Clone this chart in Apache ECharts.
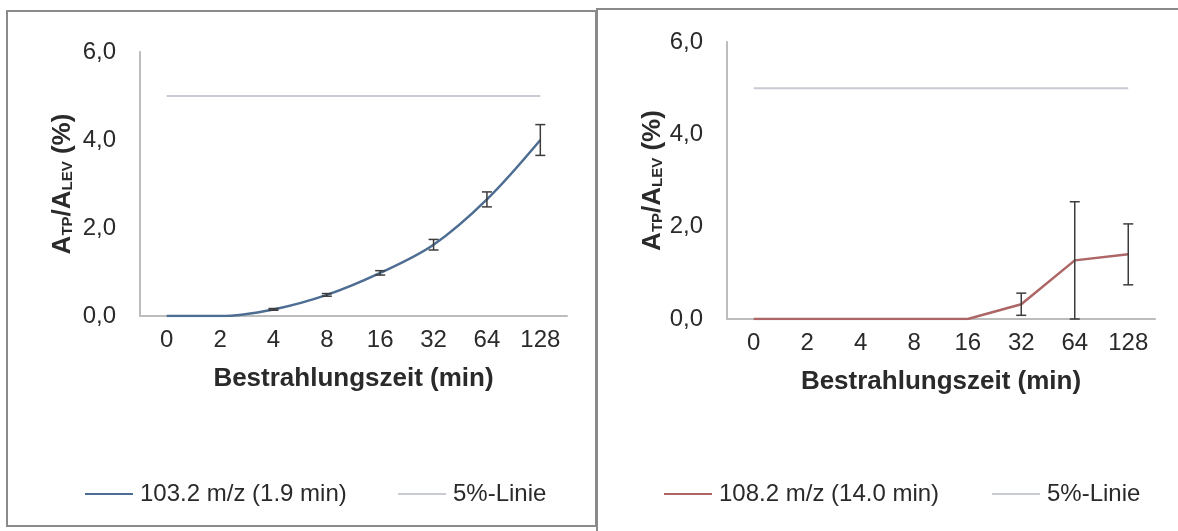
<!DOCTYPE html>
<html>
<head>
<meta charset="utf-8">
<script src="https://cdn.jsdelivr.net/npm/echarts@6/dist/echarts.min.js"></script>
<style>
  html, body { margin: 0; padding: 0; background: #ffffff; }
  #chart { width: 1178px; height: 531px; }
</style>
</head>
<body>
<div id="chart"></div>
<script>
// Irradiation times (min), shown as evenly spaced categories
const categories = ['0', '2', '4', '8', '16', '32', '64', '128'];

// 103.2 m/z (1.9 min): mean ratio and standard deviation
const leftValues = [0, 0, 0.15, 0.48, 0.98, 1.62, 2.65, 4.0];
const leftErrors = [0, 0, 0.02, 0.03, 0.05, 0.12, 0.17, 0.35];

// 108.2 m/z (14.0 min): mean ratio and standard deviation
const rightValues = [0, 0, 0, 0, 0, 0.32, 1.27, 1.40];
const rightErrors = [0, 0, 0, 0, 0, 0.24, 1.27, 0.66];

// 5 % reference line
const thresholdValues = [5, 5, 5, 5, 5, 5, 5, 5];

const yTickLabels = ['0,0', '2,0', '4,0', '6,0'];
const leftName = '103.2 m/z (1.9 min)';
const rightName = '108.2 m/z (14.0 min)';
const thresholdName = '5%-Linie';

const FONT = "'Liberation Sans', Arial, sans-serif";
const TEXT = '#2a2a2a';
const AXIS = '#bdbdbd';
const LEFT_COLOR = '#4d6d92';
const RIGHT_COLOR = '#ad6566';
const THRESH_COLOR = '#c9cbd4';
const ERR_COLOR = '#3c3c3c';

function errorData(values, errors) {
  const out = [];
  values.forEach((v, i) => {
    if (errors[i] > 0) out.push([i, v - errors[i], v + errors[i]]);
  });
  return out;
}

function renderErrorBar(params, api) {
  const i = api.value(0);
  const lo = api.coord([i, api.value(1)]);
  const hi = api.coord([i, api.value(2)]);
  const half = 5;
  const style = { stroke: ERR_COLOR, lineWidth: 1.5 };
  return {
    type: 'group',
    children: [
      { type: 'line', shape: { x1: hi[0], y1: hi[1], x2: lo[0], y2: lo[1] }, style },
      { type: 'line', shape: { x1: hi[0] - half, y1: hi[1], x2: hi[0] + half, y2: hi[1] }, style },
      { type: 'line', shape: { x1: lo[0] - half, y1: lo[1], x2: lo[0] + half, y2: lo[1] }, style }
    ]
  };
}

const yName = '{m|A}{s|TP}{m|/A}{s|LEV}{m| (%)}';
const yNameStyle = {
  rich: {
    m: { fontFamily: FONT, fontSize: 26, fontWeight: 'bold', color: TEXT },
    s: { fontFamily: FONT, fontSize: 15, fontWeight: 'bold', color: TEXT, padding: [10, 0, 0, 0] }
  }
};

function makeXAxis(gridIndex) {
  return {
    type: 'category',
    gridIndex,
    data: categories,
    boundaryGap: true,
    axisLine: { show: true, lineStyle: { color: AXIS, width: 2 } },
    axisTick: { show: false },
    axisLabel: { fontFamily: FONT, fontSize: 24, color: TEXT, margin: 12 },
    name: 'Bestrahlungszeit (min)',
    nameLocation: 'middle',
    nameGap: 50,
    nameTextStyle: { fontFamily: FONT, fontSize: 26, fontWeight: 'bold', color: TEXT }
  };
}

function makeYAxis(gridIndex, nameGap) {
  return {
    type: 'value',
    gridIndex,
    min: 0,
    max: 6,
    interval: 2,
    axisLine: { show: true, lineStyle: { color: AXIS, width: 2 } },
    axisTick: { show: false },
    splitLine: { show: false },
    axisLabel: {
      fontFamily: FONT, fontSize: 24, color: TEXT, margin: 24,
      formatter: (v) => yTickLabels[Math.round(v / 2)]
    },
    name: yName,
    nameLocation: 'middle',
    nameRotate: 90,
    nameGap,
    nameTextStyle: yNameStyle
  };
}

// One legend per entry so each entry sits at its own position; the key is a plain line
function makeLegend(name, left) {
  return {
    data: [{ name, icon: 'rect' }],
    left,
    top: 477,
    itemWidth: 48,
    itemHeight: 2,
    itemGap: 0,
    selectedMode: false,
    textStyle: { fontFamily: FONT, fontSize: 24, color: TEXT, padding: [0, 0, 0, 2] }
  };
}

const chart = echarts.init(document.getElementById('chart'), null, { renderer: 'canvas' });

chart.setOption({
  backgroundColor: '#ffffff',
  animation: false,
  graphic: [
    { type: 'rect', silent: true, z: -10,
      shape: { x: 7, y: 11, width: 589, height: 515 },
      style: { fill: '#ffffff', stroke: '#8a8a8a', lineWidth: 2 } },
    { type: 'rect', silent: true, z: -10,
      shape: { x: 597, y: 9, width: 620, height: 560 },
      style: { fill: '#ffffff', stroke: '#8a8a8a', lineWidth: 2 } }
  ],
  grid: [
    { left: 140, top: 52, width: 427, height: 264, containLabel: false },
    { left: 727, top: 42, width: 428, height: 277, containLabel: false }
  ],
  xAxis: [makeXAxis(0), makeXAxis(1)],
  yAxis: [makeYAxis(0, 64), makeYAxis(1, 60)],
  legend: [
    makeLegend(leftName, 80),
    makeLegend(thresholdName, 393),
    makeLegend(rightName, 659),
    makeLegend(thresholdName, 987)
  ],
  series: [
    {
      name: thresholdName, type: 'line', xAxisIndex: 0, yAxisIndex: 0,
      data: thresholdValues, symbol: 'none', color: THRESH_COLOR,
      lineStyle: { color: THRESH_COLOR, width: 2 }
    },
    {
      name: leftName, type: 'line', xAxisIndex: 0, yAxisIndex: 0,
      data: leftValues, symbol: 'none', smooth: 0.35, color: LEFT_COLOR,
      lineStyle: { color: LEFT_COLOR, width: 2.5 }
    },
    {
      name: 'err-left', type: 'custom', xAxisIndex: 0, yAxisIndex: 0,
      data: errorData(leftValues, leftErrors), renderItem: renderErrorBar,
      encode: { x: 0, y: [1, 2] }, z: 5, silent: true
    },
    {
      name: thresholdName, type: 'line', xAxisIndex: 1, yAxisIndex: 1,
      data: thresholdValues, symbol: 'none', color: THRESH_COLOR,
      lineStyle: { color: THRESH_COLOR, width: 2 }
    },
    {
      name: rightName, type: 'line', xAxisIndex: 1, yAxisIndex: 1,
      data: rightValues, symbol: 'none', color: RIGHT_COLOR,
      lineStyle: { color: RIGHT_COLOR, width: 2.5 }
    },
    {
      name: 'err-right', type: 'custom', xAxisIndex: 1, yAxisIndex: 1,
      data: errorData(rightValues, rightErrors), renderItem: renderErrorBar,
      encode: { x: 0, y: [1, 2] }, z: 5, silent: true
    }
  ]
});
</script>
</body>
</html>
